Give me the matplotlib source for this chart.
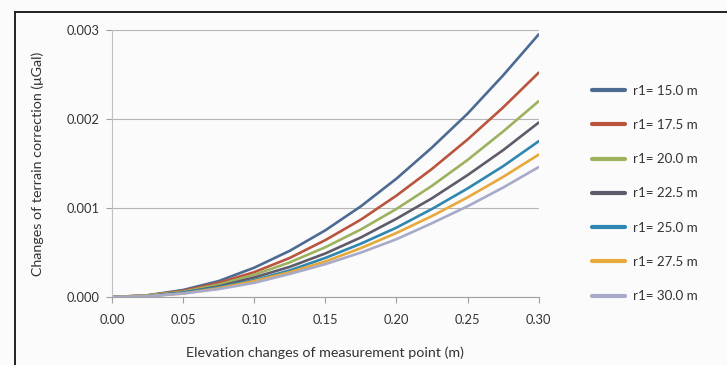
import numpy as np
import matplotlib
matplotlib.use('Agg')
import matplotlib.pyplot as plt
from matplotlib.lines import Line2D

plt.rcParams['font.family'] = ['Lato', 'DejaVu Sans']

# elevation change of the measurement point (m)
elev = [0.000, 0.025, 0.050, 0.075, 0.100, 0.125, 0.150,
        0.175, 0.200, 0.225, 0.250, 0.275, 0.300]

# terrain correction changes (uGal)
r15_0 = [0, 0.00002, 0.00008, 0.00018, 0.00033, 0.00052, 0.00075,
         0.00102, 0.00133, 0.00168, 0.00206, 0.00249, 0.00295]
r17_5 = [0, 0.00002, 0.00007, 0.00016, 0.00028, 0.00044, 0.00064,
         0.00087, 0.00114, 0.00144, 0.00177, 0.00213, 0.00252]
r20_0 = [0, 0.00002, 0.00006, 0.00014, 0.00025, 0.00039, 0.00056,
         0.00076, 0.00099, 0.00125, 0.00154, 0.00186, 0.00220]
r22_5 = [0, 0.00001, 0.00005, 0.00012, 0.00022, 0.00034, 0.00049,
         0.00067, 0.00088, 0.00111, 0.00137, 0.00165, 0.00196]
r25_0 = [0, 0.00001, 0.00005, 0.00011, 0.00019, 0.00030, 0.00044,
         0.00060, 0.00078, 0.00099, 0.00122, 0.00147, 0.00175]
r27_5 = [0, 0.00001, 0.00004, 0.00010, 0.00018, 0.00028, 0.00040,
         0.00055, 0.00072, 0.00091, 0.00112, 0.00135, 0.00160]
r30_0 = [0, 0.00001, 0.00004, 0.00009, 0.00016, 0.00026, 0.00037,
         0.00050, 0.00065, 0.00083, 0.00102, 0.00123, 0.00146]

labels = ['r1= 15.0 m', 'r1= 17.5 m', 'r1= 20.0 m', 'r1= 22.5 m',
          'r1= 25.0 m', 'r1= 27.5 m', 'r1= 30.0 m']
series = [r15_0, r17_5, r20_0, r22_5, r25_0, r27_5, r30_0]
colors = ['#4d6a92', '#b9553f', '#9db25f', '#5f5b6b', '#2f86b1', '#e7a83c', '#a7aac9']

xticks = [0.00, 0.05, 0.10, 0.15, 0.20, 0.25, 0.30]
yticks = [0.000, 0.001, 0.002, 0.003]

fig = plt.figure(figsize=(7.27, 3.65), dpi=100, facecolor='#fbfbfb')
ax = fig.add_axes([0.154, 0.186, 0.587, 0.732], facecolor='#fbfbfb')

for vals, lab, c in zip(series, labels, colors):
    ax.plot(elev, vals, color=c, lw=1.9, label=lab,
            solid_capstyle='round', solid_joinstyle='round')

ax.set_xlim(0, 0.30)
ax.set_ylim(0, 0.003)
ax.set_xticks(xticks)
ax.set_xticklabels(['%.2f' % t for t in xticks])
ax.set_yticks(yticks)
ax.set_yticklabels(['%.3f' % t for t in yticks])
ax.grid(axis='y', color='#b5b5b5', lw=0.8)
ax.set_axisbelow(True)
for s in ['top', 'right']:
    ax.spines[s].set_visible(False)
ax.spines['left'].set_color('#c0c0c0')
ax.spines['bottom'].set_color('#a0a0a0')
ax.tick_params(axis='both', colors='#a0a0a0', labelcolor='#333333',
               labelsize=9.3, length=4, width=0.8, pad=5)
ax.tick_params(axis='x', pad=8)

ax.set_xlabel('Elevation changes of measurement point (m)', fontsize=10.3,
              color='#333333', labelpad=15)
ax.set_ylabel('Changes of terrain correction (\u03bcGal)', fontsize=10.3,
              color='#333333', labelpad=16)

fig.legend(loc='center left', bbox_to_anchor=(0.807, 0.47), frameon=False,
           fontsize=9.6, labelspacing=1.67, handlelength=2.5,
           handletextpad=0.55, borderaxespad=0, labelcolor='#333333')
for h in fig.legends[0].get_lines():
    h.set_linewidth(3)

# frame of the original figure (top and left edges visible)
fig.add_artist(Line2D([0.021, 1.0], [0.967, 0.967], color='#222222', lw=1.4,
                      transform=fig.transFigure))
fig.add_artist(Line2D([0.021, 0.021], [0.0, 0.967], color='#222222', lw=1.4,
                      transform=fig.transFigure))

fig.savefig('out.png', dpi=100, facecolor=fig.get_facecolor())
